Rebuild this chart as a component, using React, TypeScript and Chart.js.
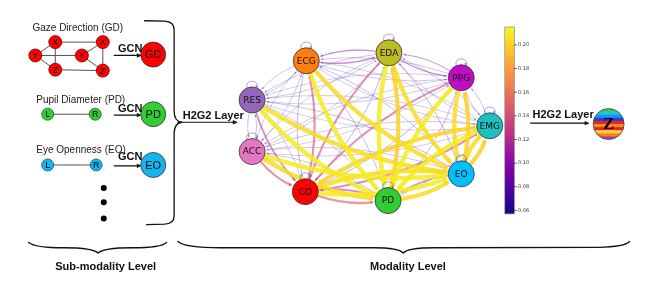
import React, { useEffect, useRef } from "react";
import { Chart, registerables } from "chart.js";
Chart.register(...registerables);

const W = 662;
const H = 297;

// ---- Modality level graph ----
const modalityNames = ["ECG", "EDA", "PPG", "EMG", "EO", "PD", "GD", "ACC", "RES"];
const modalityX = [305, 392, 468, 498, 468, 391, 304, 248, 248];
const modalityY = [50, 41, 69, 123, 177, 207, 197, 152, 94];
const modalityColors = ["#ff7f0e", "#bcbd22", "#c10bc7", "#1dbfbf", "#00bfff", "#32cd32", "#ff0000", "#e377c2", "#9467bd"];
// attention[source][target]; diagonal = self loop
const attention: number[][] = [
  /* ECG */ [0.07, 0.11, 0.07, 0.065, 0.205, 0.21, 0.08, 0.065, 0.07],
  /* EDA */ [0.1, 0.075, 0.1, 0.07, 0.205, 0.21, 0.14, 0.065, 0.07],
  /* PPG */ [0.07, 0.09, 0.065, 0.07, 0.205, 0.21, 0.14, 0.065, 0.065],
  /* EMG */ [0.065, 0.07, 0.075, 0.065, 0.205, 0.21, 0.2, 0.07, 0.065],
  /* EO  */ [0.075, 0.08, 0.2, 0.2, 0.065, 0.12, 0.205, 0.07, 0.075],
  /* PD  */ [0.075, 0.2, 0.075, 0.08, 0.205, 0.065, 0.13, 0.07, 0.07],
  /* GD  */ [0.14, 0.08, 0.08, 0.13, 0.21, 0.15, 0.075, 0.07, 0.07],
  /* ACC */ [0.065, 0.065, 0.06, 0.065, 0.21, 0.205, 0.14, 0.07, 0.075],
  /* RES */ [0.07, 0.07, 0.065, 0.06, 0.205, 0.21, 0.13, 0.075, 0.075],
];
const colorbarTicks = [0.06, 0.08, 0.1, 0.12, 0.14, 0.16, 0.18, 0.2];
const colorbarMin = 0.057;
const colorbarMax = 0.2152;

// ---- Sub-modality graphs ----
const subTitles = ["Gaze Direction (GD)", "Pupil Diameter (PD)", "Eye Openness (EO)"];
const gazeLabels = ["X", "Y", "Z", "Y", "X", "Z"];
const gazeX = [41, 20, 41, 69, 91, 91];
const gazeY = [29, 44, 60, 44, 29, 61];
const gazeEdges = [[0, 1], [0, 2], [1, 2], [3, 4], [3, 5], [4, 5], [0, 4], [1, 3], [2, 5]];
const pupilLabels = ["L", "R"];
const pupilX = [33, 83];
const pupilY = [110, 110];
const opennessLabels = ["L", "R"];
const opennessX = [33, 84];
const opennessY = [167, 167];
const embedNames = ["GD", "PD", "EO"];
const embedX = [144, 144, 144];
const embedY = [43, 110, 167];
const embedColors = ["#ff0000", "#33cc33", "#14b4ee"];
const moreDotsX = [92, 92, 92];
const moreDotsY = [193, 209, 227];
const zStripes = ["#2ecc55", "#1ec8c8", "#1e90ff", "#2a3fd0", "#e02828", "#ff8c1a", "#e82020", "#f5d33a", "#ff7f0e", "#a040b0"];

const PLASMA = ["#0d0887", "#41049d", "#6a00a8", "#8f0da4", "#b12a90", "#cc4778", "#e16462", "#f2844b", "#fca636", "#fcce25", "#f0f921"];
function hex(h: string) {
  return [parseInt(h.slice(1, 3), 16), parseInt(h.slice(3, 5), 16), parseInt(h.slice(5, 7), 16)];
}
function plasma(t: number, a = 1) {
  t = Math.max(0, Math.min(1, t));
  const p = t * 10;
  const i = Math.min(9, Math.floor(p));
  const f = p - i;
  const c1 = hex(PLASMA[i]);
  const c2 = hex(PLASMA[i + 1]);
  const c = c1.map((v, k) => Math.round(v + (c2[k] - v) * f));
  return `rgba(${c[0]},${c[1]},${c[2]},${a})`;
}

function arrowHead(c: CanvasRenderingContext2D, x: number, y: number, ang: number, len: number, hw: number, color: string) {
  c.fillStyle = color;
  c.beginPath();
  c.moveTo(x, y);
  c.lineTo(x - len * Math.cos(ang) + hw * Math.sin(ang), y - len * Math.sin(ang) - hw * Math.cos(ang));
  c.lineTo(x - len * Math.cos(ang) - hw * Math.sin(ang), y - len * Math.sin(ang) + hw * Math.cos(ang));
  c.closePath();
  c.fill();
}

const NODE_R = 13;

const diagram = {
  id: "diagram",
  beforeDatasetsDraw(chart: any) {
    const c: CanvasRenderingContext2D = chart.ctx;
    const X = (v: number) => chart.scales.x.getPixelForValue(v);
    const Y = (v: number) => chart.scales.y.getPixelForValue(v);
    c.save();
    c.lineCap = "round";
    c.lineJoin = "round";

    // network edges
    const edges: [number, number, number][] = [];
    for (let i = 0; i < modalityNames.length; i++)
      for (let j = 0; j < modalityNames.length; j++) if (i !== j) edges.push([i, j, attention[i][j]]);
    edges.sort((a, b) => a[2] - b[2]);
    const rad = 0.11;
    for (const [i, j, w] of edges) {
      const t = (w - colorbarMin) / (colorbarMax - colorbarMin);
      const lw = 0.5 + Math.pow(t, 1.5) * 4.2;
      const alpha = t > 0.8 ? 0.85 : 0.35 + 0.5 * t;
      const col = plasma(t, alpha);
      const x1 = X(modalityX[i]), y1 = Y(modalityY[i]);
      const x2 = X(modalityX[j]), y2 = Y(modalityY[j]);
      const dx = x2 - x1, dy = y2 - y1;
      const cx = (x1 + x2) / 2 - rad * dy;
      const cy = (y1 + y2) / 2 + rad * dx;
      const a1 = Math.atan2(cy - y1, cx - x1);
      const a2 = Math.atan2(cy - y2, cx - x2);
      const sx = x1 + (NODE_R + 0.5) * Math.cos(a1), sy = y1 + (NODE_R + 0.5) * Math.sin(a1);
      const ex = x2 + (NODE_R + 1) * Math.cos(a2), ey = y2 + (NODE_R + 1) * Math.sin(a2);
      const hl = 2.5 + lw * 0.6;
      const bx = ex + hl * 0.6 * Math.cos(a2), by = ey + hl * 0.6 * Math.sin(a2);
      c.strokeStyle = col;
      c.lineWidth = lw;
      c.beginPath();
      c.moveTo(sx, sy);
      c.quadraticCurveTo(cx, cy, bx, by);
      c.stroke();
      arrowHead(c, ex, ey, a2 + Math.PI, hl, 0.9 + lw * 0.35, col);
    }
    // self loops
    for (let i = 0; i < modalityNames.length; i++) {
      const w = attention[i][i];
      const t = (w - colorbarMin) / (colorbarMax - colorbarMin);
      const col = plasma(t, 0.55);
      const x = X(modalityX[i]), y = Y(modalityY[i]);
      const s = (-112 * Math.PI) / 180, e = (-68 * Math.PI) / 180;
      const sx = x + NODE_R * Math.cos(s), sy = y + NODE_R * Math.sin(s);
      const ex = x + NODE_R * Math.cos(e), ey = y + NODE_R * Math.sin(e);
      c.strokeStyle = col;
      c.lineWidth = 0.7;
      c.beginPath();
      c.moveTo(sx, sy);
      c.bezierCurveTo(sx - 4, sy - 9, ex + 4, ey - 9, ex, ey);
      c.stroke();
      arrowHead(c, ex, ey, Math.PI / 2 - 0.4, 2.5, 1.1, col);
    }

    // sub-modality edges
    c.strokeStyle = "#555";
    c.lineWidth = 1;
    for (const [a, b] of gazeEdges) {
      c.beginPath();
      c.moveTo(X(gazeX[a]), Y(gazeY[a]));
      c.lineTo(X(gazeX[b]), Y(gazeY[b]));
      c.stroke();
    }
    c.beginPath();
    c.moveTo(X(pupilX[0]), Y(pupilY[0]));
    c.lineTo(X(pupilX[1]), Y(pupilY[1]));
    c.moveTo(X(opennessX[0]), Y(opennessY[0]));
    c.lineTo(X(opennessX[1]), Y(opennessY[1]));
    c.stroke();

    // GCN arrows
    c.strokeStyle = "#111";
    c.lineWidth = 1.2;
    for (let k = 0; k < embedY.length; k++) {
      const y = Y(embedY[k] + 1);
      c.beginPath();
      c.moveTo(X(103), y);
      c.lineTo(X(128), y);
      c.stroke();
      arrowHead(c, X(132), y, 0, 5, 2.2, "#111");
    }
    // H2G2 arrows
    c.beginPath();
    c.moveTo(X(170), Y(119));
    c.lineTo(X(229), Y(119));
    c.moveTo(X(541), Y(120));
    c.lineTo(X(599), Y(120));
    c.stroke();
    arrowHead(c, X(233), Y(119), 0, 5, 2.2, "#111");
    arrowHead(c, X(603), Y(120), 0, 5, 2.2, "#111");

    // braces
    c.strokeStyle = "#111";
    c.lineWidth = 1.3;
    c.beginPath();
    c.moveTo(X(135), Y(5));
    c.lineTo(X(156), Y(5.5));
    c.quadraticCurveTo(X(166), Y(6), X(166), Y(15));
    c.lineTo(X(166), Y(106));
    c.quadraticCurveTo(X(166), Y(118), X(174), Y(119));
    c.moveTo(X(174), Y(119));
    c.quadraticCurveTo(X(166), Y(120), X(166), Y(132));
    c.lineTo(X(166), Y(224));
    c.quadraticCurveTo(X(166), Y(233), X(156), Y(233.5));
    c.lineTo(X(137), Y(234));
    c.stroke();

    c.beginPath();
    c.moveTo(X(13), Y(254));
    c.quadraticCurveTo(X(20), Y(260), X(50), Y(260));
    c.quadraticCurveTo(X(81), Y(260), X(86), Y(266));
    c.quadraticCurveTo(X(91), Y(260), X(122), Y(260));
    c.quadraticCurveTo(X(152), Y(260), X(158), Y(254));
    c.stroke();

    c.beginPath();
    c.moveTo(X(170), Y(253));
    c.quadraticCurveTo(X(177), Y(260), X(215), Y(260));
    c.lineTo(X(375), Y(260));
    c.quadraticCurveTo(X(403), Y(260), X(407), Y(266));
    c.quadraticCurveTo(X(411), Y(260), X(440), Y(260));
    c.lineTo(X(612), Y(259.5));
    c.quadraticCurveTo(X(640), Y(259), X(645), Y(253));
    c.stroke();

    // colorbar
    const cbL = X(514), cbR = X(524), cbT = Y(12), cbB = Y(222);
    const g = c.createLinearGradient(0, cbB, 0, cbT);
    for (let s = 0; s <= 20; s++) g.addColorStop(s / 20, plasma(s / 20));
    c.fillStyle = g;
    c.fillRect(cbL, cbT, cbR - cbL, cbB - cbT);
    c.strokeStyle = "#999";
    c.lineWidth = 0.8;
    c.strokeRect(cbL, cbT, cbR - cbL, cbB - cbT);
    c.fillStyle = "#333";
    c.strokeStyle = "#333";
    c.font = "5px 'DejaVu Sans'";
    c.textBaseline = "middle";
    c.textAlign = "left";
    for (const v of colorbarTicks) {
      const y = cbB + ((v - colorbarMin) / (colorbarMax - colorbarMin)) * (cbT - cbB);
      c.beginPath();
      c.moveTo(cbR, y);
      c.lineTo(cbR + 2, y);
      c.stroke();
      c.fillText(v.toFixed(2), cbR + 3.5, y);
    }

    // Z circle stripes
    const zx = X(623), zy = Y(121), zr = 15.5;
    c.save();
    c.beginPath();
    c.arc(zx, zy, zr, 0, Math.PI * 2);
    c.clip();
    const bandH = (2 * zr) / zStripes.length;
    zStripes.forEach((col, k) => {
      c.fillStyle = col;
      c.fillRect(zx - zr, zy - zr + k * bandH, 2 * zr, bandH + 0.5);
    });
    c.restore();
    c.restore();
  },
  afterDatasetsDraw(chart: any) {
    const c: CanvasRenderingContext2D = chart.ctx;
    const X = (v: number) => chart.scales.x.getPixelForValue(v);
    const Y = (v: number) => chart.scales.y.getPixelForValue(v);
    c.save();
    c.textAlign = "center";
    c.textBaseline = "middle";
    c.fillStyle = "#111";
    c.font = "9px 'DejaVu Sans'";
    modalityNames.forEach((n, i) => c.fillText(n, X(modalityX[i]), Y(modalityY[i]) + 0.5));

    c.fillStyle = "#000";
    c.font = "9px 'Liberation Sans'";
    gazeLabels.forEach((n, i) => c.fillText(n, X(gazeX[i]), Y(gazeY[i]) + 0.5));
    pupilLabels.forEach((n, i) => c.fillText(n, X(pupilX[i]), Y(pupilY[i]) + 0.5));
    opennessLabels.forEach((n, i) => c.fillText(n, X(opennessX[i]), Y(opennessY[i]) + 0.5));
    c.fillStyle = "#111";
    c.font = "11px 'Liberation Sans'";
    embedNames.forEach((n, i) => c.fillText(n, X(embedX[i]), Y(embedY[i]) + 0.5));

    c.textAlign = "left";
    c.font = "10px 'Liberation Sans'";
    c.fillStyle = "#222";
    c.fillText(subTitles[0], X(17), Y(13));
    c.fillText(subTitles[1], X(21), Y(94));
    c.fillText(subTitles[2], X(21), Y(150));

    c.font = "bold 11px 'Liberation Sans'";
    c.fillStyle = "#111";
    const gcnY = [37, 104, 158];
    gcnY.forEach((y) => c.fillText("GCN", X(107), Y(y)));
    c.fillText("H2G2 Layer", X(175), Y(112));
    c.fillText("H2G2 Layer", X(543), Y(111));

    c.textAlign = "center";
    c.font = "bold 11px 'Liberation Sans'";
    c.fillText("Sub-modality Level", X(94), Y(282));
    c.fillText("Modality Level", X(412), Y(282));

    c.font = "bold 17px 'Liberation Serif'";
    c.fillStyle = "#000";
    c.fillText("Z", X(623), Y(122));
    c.restore();
  },
};

function pts(xs: number[], ys: number[]) {
  return xs.map((x, i) => ({ x, y: ys[i] }));
}

export default function App() {
  const ref = useRef<HTMLCanvasElement>(null);
  useEffect(() => {
    const canvas = ref.current!;
    const chart = new Chart(canvas, {
      type: "scatter",
      data: {
        datasets: [
          { data: pts(modalityX, modalityY), pointRadius: NODE_R, backgroundColor: modalityColors, borderColor: "#333", borderWidth: 0.8 },
          { data: pts(gazeX, gazeY), pointRadius: 6.5, backgroundColor: "#ff0000", borderColor: "#7a0000", borderWidth: 0.8 },
          { data: pts(pupilX, pupilY), pointRadius: 6, backgroundColor: "#33cc33", borderColor: "#1a6b1a", borderWidth: 0.8 },
          { data: pts(opennessX, opennessY), pointRadius: 6, backgroundColor: "#14b4ee", borderColor: "#0a5a80", borderWidth: 0.8 },
          { data: pts(embedX, embedY), pointRadius: 12.5, backgroundColor: embedColors, borderColor: "#333", borderWidth: 0.8 },
          { data: pts(moreDotsX, moreDotsY), pointRadius: 3, backgroundColor: "#000", borderColor: "#000", borderWidth: 0 },
          { data: [{ x: 623, y: 121 }], pointRadius: 15.5, backgroundColor: "rgba(0,0,0,0)", borderColor: "#444", borderWidth: 0.8 },
        ],
      },
      options: {
        responsive: false,
        maintainAspectRatio: false,
        animation: false,
        events: [],
        layout: { padding: 0 },
        plugins: { legend: { display: false }, tooltip: { enabled: false } },
        scales: {
          x: { type: "linear", min: 0, max: W, display: false },
          y: { type: "linear", min: 0, max: H, reverse: true, display: false },
        },
      },
      plugins: [diagram],
    } as any);
    return () => chart.destroy();
  }, []);
  return (
    <div style={{ position: "fixed", left: 0, top: 0, width: W, height: H, background: "#fff" }}>
      <canvas ref={ref} width={W} height={H} style={{ width: W, height: H, display: "block" }} />
    </div>
  );
}
